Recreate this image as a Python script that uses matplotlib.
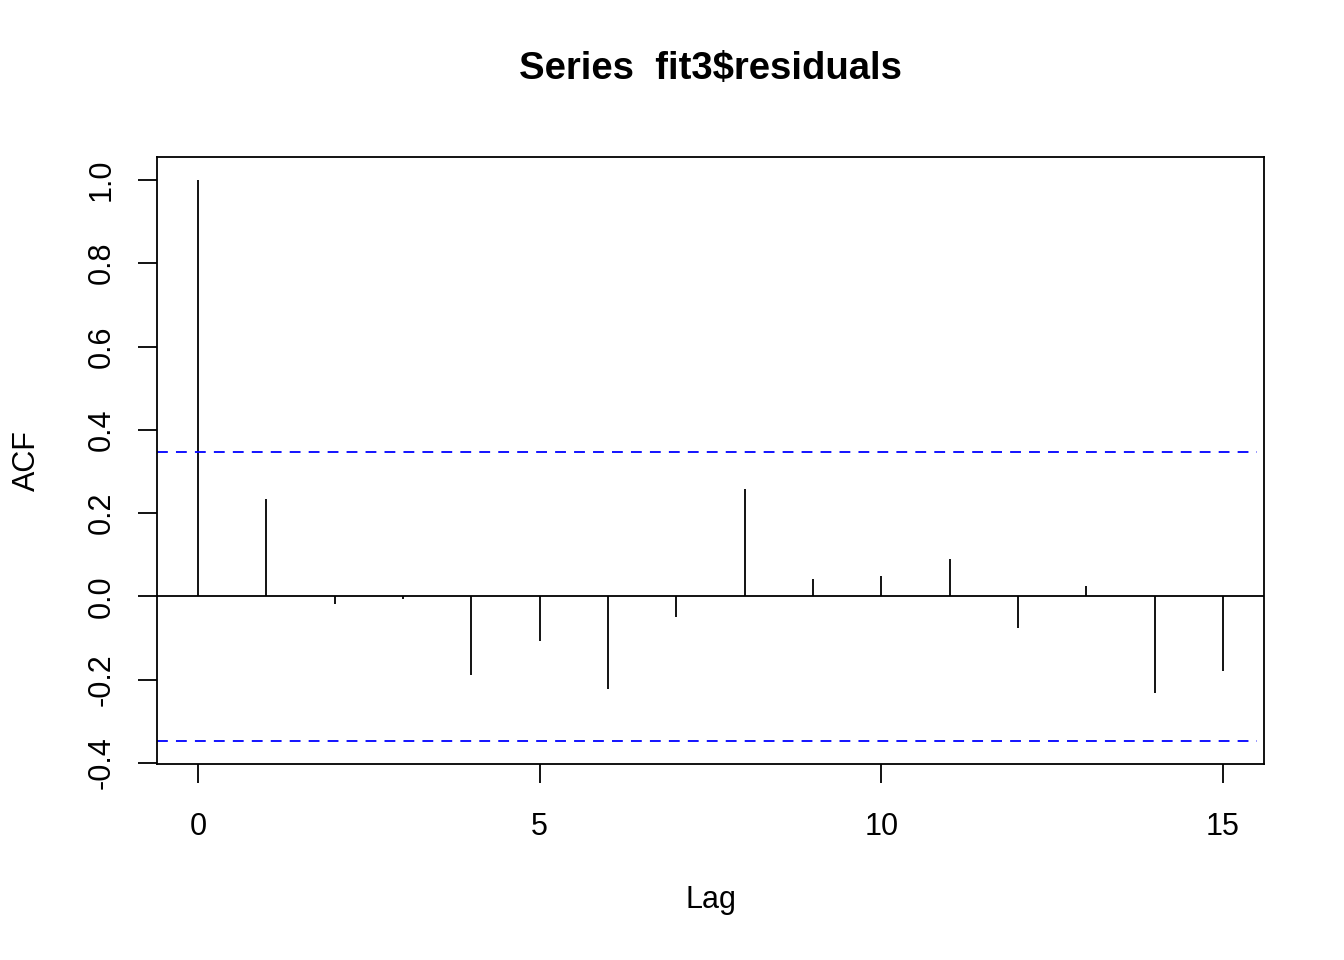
import numpy as np
import matplotlib
matplotlib.use('Agg')
import matplotlib.pyplot as plt

plt.rcParams['font.family'] = ['Liberation Sans', 'DejaVu Sans']

# ACF values
lags = np.arange(16)
acf = [1.0, 0.233, -0.017, -0.005, -0.188, -0.106, -0.221, -0.05,
       0.257, 0.043, 0.048, 0.089, -0.075, 0.026, -0.231, -0.178]
ci = 0.347
x_ticks = [0, 5, 10, 15]
y_ticks = [-0.4, -0.2, 0.0, 0.2, 0.4, 0.6, 0.8, 1.0]

fig = plt.figure(figsize=(13.44, 9.6), dpi=100)
ax = fig.add_axes([157 / 1344, 1 - 763.5 / 960, (1264 - 157) / 1344, (763.5 - 157) / 960])

ax.vlines(lags, 0, acf, color='black', linewidth=1.3)
ax.axhline(0, color='black', linewidth=1.3)
ax.hlines([ci, -ci], -0.6, 15.5, color='#0000ff', linewidth=1.3,
          linestyles=(0, (6, 4.5)))

ax.set_xlim(-0.6, 15.6)
ax.set_ylim(-0.401, 1.055)
ax.set_xticks(x_ticks)
ax.set_yticks(y_ticks)
ax.set_yticklabels([f'{v:.1f}' for v in y_ticks], rotation=90, va='center')
ax.tick_params(length=14, width=1.3, labelsize=22)
ax.tick_params(axis='x', pad=21)
ax.tick_params(axis='y', pad=15)
for s in ax.spines.values():
    s.set_linewidth(1.3)

ax.set_xlabel('Lag', fontsize=22, labelpad=31)
ax.set_ylabel('ACF', fontsize=22, labelpad=32)
ax.set_title('Series  fit3$residuals', fontsize=27.5, fontweight='bold', pad=56)

fig.savefig('out.png', dpi=100)
